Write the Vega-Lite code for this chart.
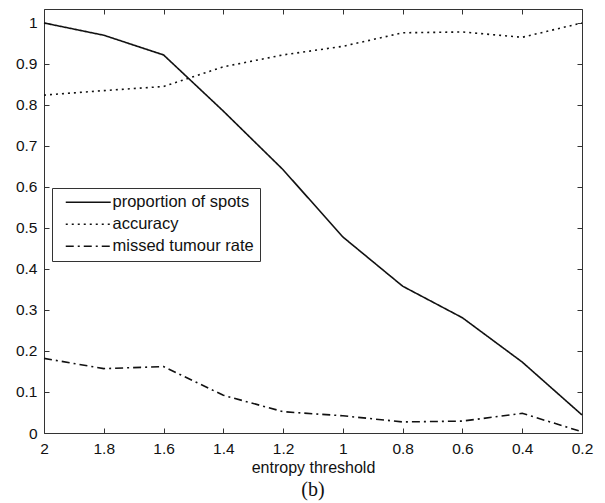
{
  "$schema": "https://vega.github.io/schema/vega-lite/v6.json",
  "width": 538,
  "height": 424,
  "autosize": "none",
  "padding": {"left": 44, "top": 9, "right": 23, "bottom": 70},
  "background": "white",
  "config": {
    "view": {"stroke": "#333", "strokeWidth": 1},
    "font": "Liberation Sans"
  },
  "title": {
    "text": "(b)",
    "orient": "bottom",
    "font": "Liberation Serif",
    "fontSize": 20,
    "fontWeight": "normal",
    "color": "#111",
    "anchor": "middle",
    "offset": 4,
    "baseline": "top"
  },
  "data": {
    "values": [
      {"x": 2.0, "value": 1.0, "series": "proportion of spots"},
      {"x": 1.8, "value": 0.97, "series": "proportion of spots"},
      {"x": 1.6, "value": 0.922, "series": "proportion of spots"},
      {"x": 1.4, "value": 0.785, "series": "proportion of spots"},
      {"x": 1.2, "value": 0.642, "series": "proportion of spots"},
      {"x": 1.0, "value": 0.478, "series": "proportion of spots"},
      {"x": 0.8, "value": 0.358, "series": "proportion of spots"},
      {"x": 0.6, "value": 0.281, "series": "proportion of spots"},
      {"x": 0.4, "value": 0.173, "series": "proportion of spots"},
      {"x": 0.2, "value": 0.044, "series": "proportion of spots"},
      {"x": 2.0, "value": 0.824, "series": "accuracy"},
      {"x": 1.8, "value": 0.835, "series": "accuracy"},
      {"x": 1.6, "value": 0.845, "series": "accuracy"},
      {"x": 1.4, "value": 0.893, "series": "accuracy"},
      {"x": 1.2, "value": 0.922, "series": "accuracy"},
      {"x": 1.0, "value": 0.943, "series": "accuracy"},
      {"x": 0.8, "value": 0.976, "series": "accuracy"},
      {"x": 0.6, "value": 0.978, "series": "accuracy"},
      {"x": 0.4, "value": 0.965, "series": "accuracy"},
      {"x": 0.2, "value": 1.0, "series": "accuracy"},
      {"x": 2.0, "value": 0.182, "series": "missed tumour rate"},
      {"x": 1.8, "value": 0.157, "series": "missed tumour rate"},
      {"x": 1.6, "value": 0.162, "series": "missed tumour rate"},
      {"x": 1.4, "value": 0.092, "series": "missed tumour rate"},
      {"x": 1.2, "value": 0.052, "series": "missed tumour rate"},
      {"x": 1.0, "value": 0.042, "series": "missed tumour rate"},
      {"x": 0.8, "value": 0.027, "series": "missed tumour rate"},
      {"x": 0.6, "value": 0.029, "series": "missed tumour rate"},
      {"x": 0.4, "value": 0.048, "series": "missed tumour rate"},
      {"x": 0.2, "value": 0.003, "series": "missed tumour rate"}
    ]
  },
  "resolve": {"axis": {"x": "independent", "y": "independent"}},
  "layer": [
    {
      "mark": {"type": "line", "color": "#111", "strokeWidth": 1.6},
      "encoding": {
        "x": {
          "field": "x", "type": "quantitative",
          "scale": {"domain": [0.2, 2], "reverse": true, "nice": false, "zero": false},
          "axis": {
            "orient": "bottom",
            "values": [2, 1.8, 1.6, 1.4, 1.2, 1, 0.8, 0.6, 0.4, 0.2],
            "format": "~g",
            "domain": false, "grid": false,
            "tickSize": -5, "tickColor": "#333",
            "labelFontSize": 15.5, "labelColor": "#111", "labelPadding": 13,
            "labelFlush": false,
            "title": "entropy threshold",
            "titleFontSize": 16, "titleFontWeight": "normal", "titleColor": "#111",
            "titlePadding": 3
          }
        },
        "y": {
          "field": "value", "type": "quantitative",
          "scale": {"domain": [0, 1.034], "nice": false, "zero": true},
          "axis": {
            "orient": "left",
            "values": [0, 0.1, 0.2, 0.3, 0.4, 0.5, 0.6, 0.7, 0.8, 0.9, 1],
            "format": "~g",
            "domain": false, "grid": false,
            "tickSize": -5, "tickColor": "#333",
            "labelFontSize": 15.5, "labelColor": "#111", "labelPadding": 12,
            "labelFlush": false,
            "title": null
          }
        },
        "strokeDash": {
          "field": "series", "type": "nominal",
          "scale": {
            "domain": ["proportion of spots", "accuracy", "missed tumour rate"],
            "range": [[1, 0], [2, 4], [8, 4, 2, 4]]
          },
          "legend": {
            "title": null,
            "orient": "none",
            "legendX": 8,
            "legendY": 179,
            "direction": "vertical",
            "strokeColor": "#333",
            "fillColor": "white",
            "padding": 6,
            "symbolType": "M-5,0H5",
            "symbolSize": 81,
            "symbolStrokeWidth": 1.6,
            "symbolStrokeColor": "#111",
            "symbolFillColor": "transparent",
            "symbolOffset": 22,
            "labelFontSize": 16.5,
            "labelColor": "#111",
            "labelOffset": 16,
            "rowPadding": 5,
            "labelLimit": 300
          }
        }
      }
    },
    {
      "mark": {"type": "point", "opacity": 0},
      "encoding": {
        "x": {
          "field": "x", "type": "quantitative",
          "axis": {
            "orient": "top",
            "values": [2, 1.8, 1.6, 1.4, 1.2, 1, 0.8, 0.6, 0.4, 0.2],
            "domain": false, "grid": false, "labels": false,
            "tickSize": -5, "tickColor": "#333", "title": null
          }
        },
        "y": {
          "field": "value", "type": "quantitative",
          "axis": {
            "orient": "right",
            "values": [0, 0.1, 0.2, 0.3, 0.4, 0.5, 0.6, 0.7, 0.8, 0.9, 1],
            "domain": false, "grid": false, "labels": false,
            "tickSize": -5, "tickColor": "#333", "title": null
          }
        }
      }
    }
  ]
}
